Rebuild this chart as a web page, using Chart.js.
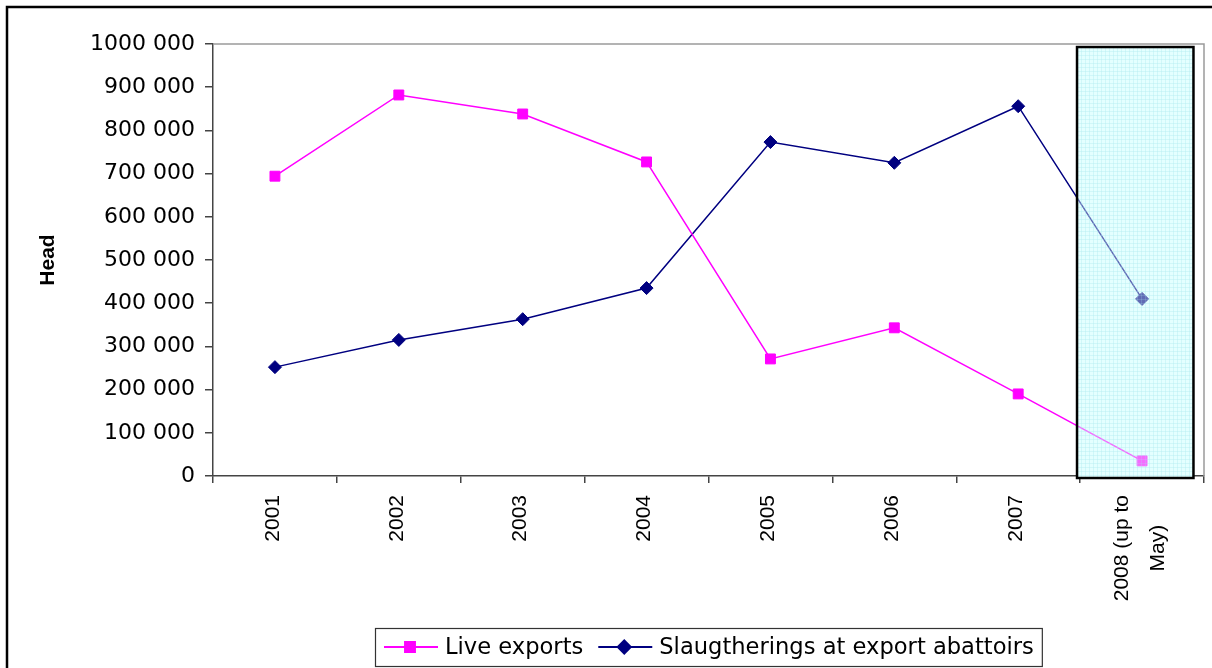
<!DOCTYPE html>
<html><head><meta charset="utf-8">
<script src="https://cdn.jsdelivr.net/npm/chart.js@4/dist/chart.umd.min.js"></script>
<style>html,body{margin:0;padding:0;background:#fff}</style>
</head><body>
<canvas id="c" width="1212" height="668"></canvas>
<script>
const categories = ['2001', '2002', '2003', '2004', '2005', '2006', '2007', ['2008 (up to', 'May)']];
const liveExports = [694000, 882000, 838000, 727000, 271000, 343000, 190000, 35000];
const slaughterings = [252000, 315000, 363000, 435000, 773000, 725000, 856000, 410000];
const yTickLabels = ['0', '100 000', '200 000', '300 000', '400 000', '500 000', '600 000', '700 000', '800 000', '900 000', '1000 000'];
const seriesNames = ['Live exports', 'Slaugtherings at export abattoirs'];
const yAxisTitle = 'Head';

const MAGENTA = '#ff00ff', NAVY = '#000080';
const PLOT_LEFT = 213, PLOT_TOP = 44, PLOT_RIGHT_PAD = 8, PLOT_BOTTOM = 476;
const XFONT = '21px "Liberation Sans", Arial, sans-serif';

function boxRect(chart) {
  const x = chart.scales.x, y = chart.scales.y;
  const cw = x.getPixelForValue(1) - x.getPixelForValue(0);
  const c = x.getPixelForValue(7);
  const l = c - 0.525 * cw, r = c + 0.415 * cw;
  const t = y.getPixelForValue(993000), b = y.getPixelForValue(0) + 2;
  return {l, r, t, b};
}
function drawPattern(ctx, b, alpha) {
  ctx.save();
  ctx.beginPath(); ctx.rect(b.l, b.t, b.r - b.l, b.b - b.t); ctx.clip();
  ctx.strokeStyle = 'rgba(170,235,238,' + alpha + ')';
  ctx.lineWidth = 1;
  ctx.beginPath();
  for (let xx = Math.floor(b.l) + 0.5; xx < b.r; xx += 4) { ctx.moveTo(xx, b.t); ctx.lineTo(xx, b.b); }
  for (let yy = Math.floor(b.t) + 0.5; yy < b.b; yy += 4) { ctx.moveTo(b.l, yy); ctx.lineTo(b.r, yy); }
  ctx.stroke();
  ctx.restore();
}

const decor = {
  id: 'decor',
  beforeDraw(chart) {
    const ctx = chart.ctx;
    ctx.save(); ctx.fillStyle = '#fff'; ctx.fillRect(0, 0, chart.width, chart.height); ctx.restore();
  },
  beforeDatasetsDraw(chart) {
    const ctx = chart.ctx, a = chart.chartArea;
    const b = boxRect(chart);
    ctx.save();
    ctx.fillStyle = '#e4ffff';
    ctx.fillRect(b.l, b.t, b.r - b.l, b.b - b.t);
    ctx.restore();
    drawPattern(ctx, b, 0.3);
    ctx.save();
    ctx.strokeStyle = '#9a9a9a'; ctx.lineWidth = 1.5;
    ctx.beginPath();
    ctx.moveTo(a.left, a.top); ctx.lineTo(a.right, a.top); ctx.lineTo(a.right, a.bottom);
    ctx.stroke();
    ctx.restore();
  },
  afterDatasetsDraw(chart) {
    const ctx = chart.ctx;
    const b = boxRect(chart);
    ctx.save();
    ctx.fillStyle = 'rgba(228,255,255,0.42)';
    ctx.fillRect(b.l, b.t, b.r - b.l, b.b - b.t);
    ctx.restore();
    drawPattern(ctx, b, 0.2);
    ctx.save();
    ctx.strokeStyle = '#000'; ctx.lineWidth = 2.5;
    ctx.strokeRect(b.l, b.t, b.r - b.l, b.b - b.t);
    ctx.restore();
  },
  afterDraw(chart) {
    const ctx = chart.ctx, a = chart.chartArea;
    // outer frame
    ctx.save();
    ctx.strokeStyle = '#000'; ctx.lineWidth = 2.5;
    ctx.strokeRect(7, 7, chart.width + 50, chart.height + 50);
    ctx.restore();
    // x category labels (rotated, lines centred on each other)
    const xs = chart.scales.x;
    ctx.save();
    ctx.font = XFONT; ctx.fillStyle = '#000';
    const top = a.bottom + 19, lh = 36;
    categories.forEach((lab, i) => {
      const lines = Array.isArray(lab) ? lab : [lab];
      const maxW = Math.max(...lines.map(s => ctx.measureText(s).width));
      const px = xs.getPixelForValue(i) - 2;
      lines.forEach((s, k) => {
        const cx = px + (k - (lines.length - 1) / 2) * lh;
        ctx.save();
        ctx.translate(cx, top + maxW / 2);
        ctx.rotate(-Math.PI / 2);
        ctx.textAlign = 'center'; ctx.textBaseline = 'middle';
        ctx.fillText(s, 0, 0);
        ctx.restore();
      });
    });
    ctx.restore();
    // y axis title
    ctx.save();
    ctx.translate(48, (a.top + a.bottom) / 2);
    ctx.rotate(-Math.PI / 2);
    ctx.font = 'bold 21px "Liberation Sans", Arial, sans-serif';
    ctx.fillStyle = '#000'; ctx.textAlign = 'center'; ctx.textBaseline = 'middle';
    ctx.fillText(yAxisTitle, 0, 0);
    ctx.restore();
    // legend
    ctx.save();
    ctx.font = '22.6px "DejaVu Sans", sans-serif';
    const colors = [MAGENTA, NAVY];
    const styles = ['rect', 'rectRot'];
    const radii = [7, 6.5];
    const cy = 647, boxL = 375, boxT = 628, boxB = 666;
    let x = boxL + 9;
    const items = [];
    seriesNames.forEach((name, i) => {
      items.push({x, name, i});
      x += 54 + 7 + ctx.measureText(name).width + 15;
    });
    const boxR = x - 15 + 8;
    ctx.fillStyle = '#fff';
    ctx.fillRect(boxL, boxT, boxR - boxL, boxB - boxT);
    ctx.strokeStyle = '#333'; ctx.lineWidth = 1.2;
    ctx.strokeRect(boxL + 0.5, boxT + 0.5, boxR - boxL, boxB - boxT);
    items.forEach(it => {
      ctx.strokeStyle = colors[it.i]; ctx.lineWidth = 2;
      ctx.beginPath(); ctx.moveTo(it.x, cy); ctx.lineTo(it.x + 54, cy); ctx.stroke();
      ctx.fillStyle = colors[it.i];
      Chart.helpers.drawPoint(ctx, {pointStyle: styles[it.i], radius: radii[it.i], rotation: 0, borderWidth: 1}, it.x + 26, cy);
      ctx.fillStyle = '#000'; ctx.textAlign = 'left'; ctx.textBaseline = 'middle';
      ctx.fillText(it.name, it.x + 61, cy + 1);
    });
    ctx.restore();
  }
};

new Chart(document.getElementById('c'), {
  type: 'line',
  data: {
    labels: categories,
    datasets: [
      {
        label: seriesNames[0], data: liveExports,
        borderColor: MAGENTA, backgroundColor: MAGENTA, borderWidth: 1.5,
        pointStyle: 'rect', pointRadius: 7, pointBorderWidth: 1, pointBorderColor: MAGENTA,
        tension: 0
      },
      {
        label: seriesNames[1], data: slaughterings,
        borderColor: NAVY, backgroundColor: NAVY, borderWidth: 1.5,
        pointStyle: 'rectRot', pointRadius: 6.5, pointBorderWidth: 1, pointBorderColor: NAVY,
        tension: 0
      }
    ]
  },
  options: {
    responsive: false,
    animation: false,
    devicePixelRatio: 1,
    layout: {padding: {left: 0, top: PLOT_TOP, right: PLOT_RIGHT_PAD, bottom: 0}},
    plugins: {legend: {display: false}, tooltip: {enabled: false}},
    scales: {
      x: {
        type: 'category',
        offset: true,
        grid: {offset: true, drawOnChartArea: false, drawTicks: true, tickLength: 7, color: '#444', lineWidth: 1.5},
        border: {display: true, color: '#444', width: 1.5},
        ticks: {display: false, autoSkip: false},
        afterFit(scale) { scale.height = 668 - PLOT_BOTTOM; }
      },
      y: {
        min: 0, max: 1000000,
        grid: {drawOnChartArea: false, drawTicks: true, tickLength: 8, color: '#444', lineWidth: 1.5},
        border: {display: true, color: '#444', width: 1.5},
        ticks: {
          stepSize: 100000, padding: 10, color: '#000',
          font: {family: '"DejaVu Sans", sans-serif', size: 22},
          callback: (v, i) => yTickLabels[i]
        },
        afterFit(scale) { scale.width = PLOT_LEFT; }
      }
    }
  },
  plugins: [decor]
});
</script>
</body></html>
